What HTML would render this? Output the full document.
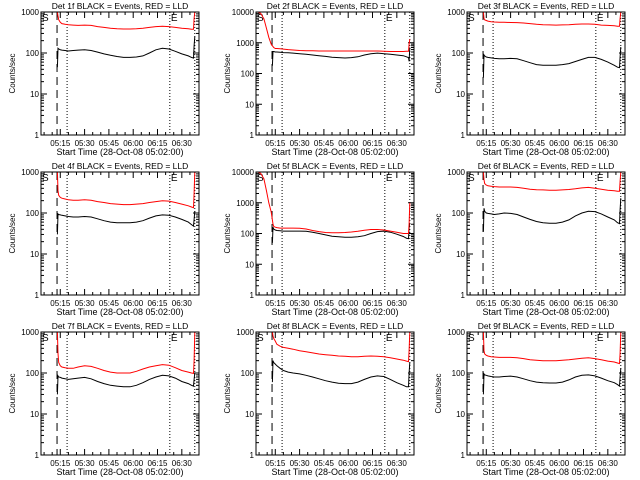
<!DOCTYPE html>
<html><head><meta charset="utf-8"><style>
html,body{margin:0;padding:0;background:#fff;}
svg{display:block;font-family:"Liberation Sans",sans-serif;}
</style></head><body>
<svg id="chart" width="640" height="480" viewBox="0 0 640 480" xmlns="http://www.w3.org/2000/svg"></svg>
<script>
// time (minutes after 05:00) for each sample
const T = [13.2,13.6,14,15,16,18,20,23,26,30,34,38,42,46,50,54,58,62,66,70,74,78,82,86,90,94,96,97.2,97.6,98];
const T2 = [4.4,6,8,9.5,11,12.5,13.6,14,15,16,18,20,23,26,30,34,38,42,46,50,54,58,62,66,70,74,78,82,86,90,94,96,97.2,97.6,98];
const tickMinutes = [15,30,45,60,75,90];
const tickLabels = ["05:15","05:30","05:45","06:00","06:15","06:30"];
const markerDashed = 13;
const markerDotted = [19.2,82.6,98];
const detNames = ["1f","2f","3f","4f","5f","6f","7f","8f","9f"];
const yMaxes = [1000,10000,1000,1000,10000,1000,1000,1000,1000];
const red1 = [1000,800,650,560,520,500,490,480,470,480,470,440,420,400,390,385,385,390,400,420,440,450,440,420,400,390,380,380,700,1000];
const blk1 = [45,130,125,120,118,115,112,115,118,120,115,105,95,88,82,78,78,80,85,100,120,130,125,110,95,85,78,75,150,250];
const red2 = [10000,9000,6000,3000,1500,900,750,700,650,650,640,620,600,580,560,550,550,540,540,540,540,540,540,540,540,540,540,530,520,520,520,530,530,900,1300];
const blk2 = [180,520,520,500,500,490,480,470,460,440,420,400,380,360,340,330,320,330,350,400,440,460,440,420,400,380,350,330,250,700];
const red3 = [1000,700,640,620,600,580,570,560,560,555,550,540,520,500,490,485,480,485,490,500,510,510,500,480,470,460,450,450,700,1000];
const blk3 = [25,90,85,80,78,76,74,72,72,74,72,65,58,52,50,50,50,52,55,62,70,78,78,70,60,50,45,44,80,140];
const red4 = [1000,350,270,240,230,220,210,205,205,210,205,190,180,170,165,160,160,165,170,180,190,200,195,180,165,150,140,135,300,1000];
const blk4 = [30,95,92,90,88,85,82,80,80,82,80,72,65,60,58,58,58,60,65,75,85,90,88,80,70,60,52,48,70,110];
const red5 = [10000,9000,6000,2500,1000,500,200,170,160,155,150,150,150,150,148,140,125,115,108,105,105,108,112,118,128,135,135,130,120,110,100,100,100,200,1000];
const blk5 = [50,160,140,130,125,122,120,120,120,120,118,110,100,90,82,78,75,75,78,85,100,115,120,110,95,80,70,68,150,220];
const red6 = [1000,650,520,480,460,450,440,430,430,430,420,400,380,370,365,360,360,365,375,390,410,420,400,380,360,350,340,340,600,1000];
const blk6 = [35,130,110,100,98,95,92,95,100,98,92,80,70,62,58,56,56,60,68,85,100,110,108,95,80,68,58,55,120,230];
const red7 = [1000,300,180,150,140,135,130,130,140,150,145,130,115,105,100,100,100,110,125,140,150,160,155,135,115,105,100,98,200,1000];
const blk7 = [30,85,80,78,75,72,70,72,75,78,72,62,55,50,48,46,46,50,58,70,80,88,85,75,62,55,50,48,70,100];
const red8 = [1000,800,700,600,500,450,420,400,380,350,330,310,290,280,270,260,255,250,250,255,260,255,250,235,220,205,195,190,350,1000];
const blk8 = [60,200,180,165,150,130,115,105,100,95,88,80,72,65,60,56,55,55,60,70,80,85,82,70,58,50,46,46,100,180];
const red9 = [1000,350,290,270,260,250,245,240,240,240,235,225,210,205,200,200,200,205,210,220,230,235,225,210,195,185,175,170,300,1000];
const blk9 = [30,95,90,88,85,82,80,80,82,84,80,72,65,60,58,57,57,60,68,80,88,90,85,75,65,58,52,48,80,130];
const reds = [red1,red2,red3,red4,red5,red6,red7,red8,red9];
const blks = [blk1,blk2,blk3,blk4,blk5,blk6,blk7,blk8,blk9];

const NS = "http://www.w3.org/2000/svg";
const svg = document.getElementById("chart");
const colLeft = [41,256,467], rowTop = [12,172,332], W = 158, H = 123;
const tMin = 3.1, tMax = 100.6;
function mk(tag, attrs, parent){const e=document.createElementNS(NS,tag);for(const k in attrs)e.setAttribute(k,attrs[k]);(parent||svg).appendChild(e);return e;}

for (let p=0;p<9;p++){
  const L = colLeft[p%3], Tp = rowTop[Math.floor(p/3)];
  const yMax = yMaxes[p], dec = Math.log10(yMax);
  const xS = t => L + (t - tMin)/(tMax - tMin)*W;
  const yS = v => Tp + H - Math.log10(Math.max(1,Math.min(yMax,v)))/dec*H;
  const g = mk("g",{});
  
  
  const title = mk("text",{x:L+W/2,y:Tp-3,"font-size":"8.5","text-anchor":"middle",fill:"#000"},g);
  title.textContent = "Det "+detNames[p]+" BLACK = Events, RED = LLD";
  
  
  const yl = mk("text",{x:0,y:0,"font-size":"8","text-anchor":"middle",transform:`translate(${L-26},${Tp+H/2}) rotate(-90)`},g);
  yl.textContent = "Counts/sec";
  
  
  for (let d=0; d<=dec; d++){
    const y = yS(Math.pow(10,d));
    const lb = mk("text",{x:L-2,y:y+3,"font-size":"8","text-anchor":"end"},g);
    lb.textContent = String(Math.pow(10,d));
    
    
    mk("line",{x1:L,x2:L+6,y1:y,y2:y,stroke:"#000","stroke-width":1},g);
    mk("line",{x1:L+W-6,x2:L+W,y1:y,y2:y,stroke:"#000","stroke-width":1},g);
    if (d<dec) for (let m=2;m<10;m++){
      const ym = yS(m*Math.pow(10,d));
      mk("line",{x1:L,x2:L+3,y1:ym,y2:ym,stroke:"#000","stroke-width":1},g);
      mk("line",{x1:L+W-3,x2:L+W,y1:ym,y2:ym,stroke:"#000","stroke-width":1},g);
    }
  }
  tickMinutes.forEach((t,i)=>{
    const x = xS(t);
    mk("line",{x1:x,x2:x,y1:Tp+H,y2:Tp+H-6,stroke:"#000","stroke-width":1},g);
    mk("line",{x1:x,x2:x,y1:Tp,y2:Tp+6,stroke:"#000","stroke-width":1},g);
    const lb = mk("text",{x:x,y:Tp+H+11,"font-size":"8","text-anchor":"middle"},g);
    lb.textContent = tickLabels[i];
    
    
  });
  for (let t=5;t<100;t+=5){ if(t%15){const x=xS(t);mk("line",{x1:x,x2:x,y1:Tp+H,y2:Tp+H-3,stroke:"#000"},g);mk("line",{x1:x,x2:x,y1:Tp,y2:Tp+3,stroke:"#000"},g);} }
  const xl = mk("text",{x:L+W/2,y:Tp+H+20,"font-size":"9","text-anchor":"middle"},g);
  xl.textContent = "Start Time (28-Oct-08 05:02:00)";
  
  
  const xd = xS(markerDashed);
  mk("line",{x1:xd,x2:xd,y1:Tp,y2:Tp+H,stroke:"#000","stroke-width":1,"stroke-dasharray":"8,5"},g);
  markerDotted.forEach(t=>{const x=xS(t);mk("line",{x1:x,x2:x,y1:Tp,y2:Tp+H,stroke:"#000","stroke-width":1,"stroke-dasharray":"1,2"},g);});
  const s = mk("text",{x:L+1,y:Tp+9,"font-size":"10"},g); s.textContent="S";
  
  
  const e = mk("text",{x:xS(markerDotted[1])+1,y:Tp+9,"font-size":"10"},g); e.textContent="E";
  
  
  const rt = reds[p].length===T2.length ? T2 : T;
  const rp = reds[p].map((v,i)=>xS(rt[i]).toFixed(1)+","+yS(v).toFixed(1)).join(" ");
  const bp = blks[p].map((v,i)=>xS(T[i]).toFixed(1)+","+yS(v).toFixed(1)).join(" ");
  const bl = mk("polyline",{points:bp,fill:"none",stroke:"#000","stroke-width":1},g);
  
  
  const rl = mk("polyline",{points:rp,fill:"none",stroke:"#ff0000","stroke-width":1},g);
  
  
  const bx = mk("rect",{x:L,y:Tp,width:W,height:H,fill:"none",stroke:"#000","stroke-width":1},g);
  
  
}
</script>
</body></html>
